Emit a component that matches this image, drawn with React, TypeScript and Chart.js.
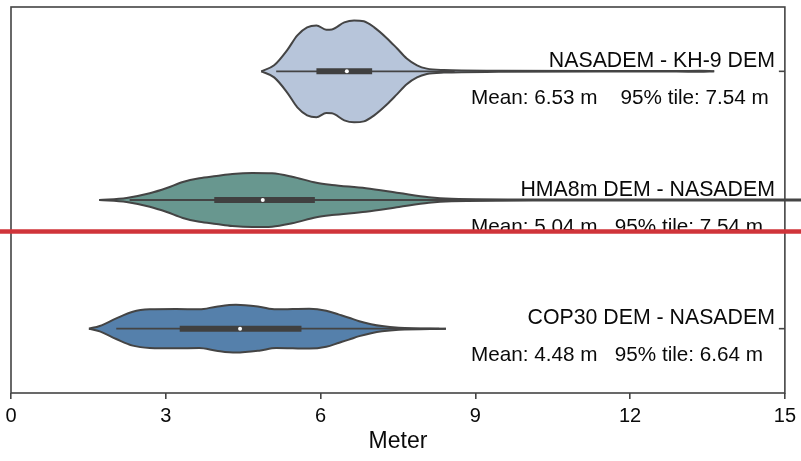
import React, { useEffect, useRef } from 'react';
import { Chart, registerables } from 'chart.js';

Chart.register(...registerables);

// ---- data ----
const categories = ['NASADEM - KH-9 DEM', 'HMA8m DEM - NASADEM', 'COP30 DEM - NASADEM'];
const meanValues = ['6.53', '5.04', '4.48'];
const p95Values = ['7.54', '7.54', '6.64'];
const statGaps = ['    ', '   ', '   '];

// violin outlines: x position (m) and half width (category units)
const v1X = [4.85, 5.1, 5.35, 5.55, 5.74, 5.92, 6.11, 6.22, 6.46, 6.65, 6.84, 7.04, 7.29, 7.48, 7.67, 7.87, 8.06, 8.39, 9.45, 11.4, 12.9, 13.35, 13.63];
const v1W = [0, 0.047, 0.163, 0.28, 0.342, 0.357, 0.324, 0.326, 0.381, 0.396, 0.389, 0.342, 0.256, 0.179, 0.1, 0.047, 0.021, 0.01, 0.004, 0.002, 0.002, 0.004, 0];
const v2X = [1.71, 2.24, 2.69, 3.02, 3.33, 3.65, 3.98, 4.29, 4.68, 5.06, 5.45, 5.92, 6.22, 6.88, 7.52, 8.1, 8.54, 10.4, 13.3, 15.5];
const v2W = [0, 0.016, 0.052, 0.093, 0.14, 0.169, 0.186, 0.202, 0.21, 0.207, 0.181, 0.134, 0.117, 0.091, 0.054, 0.021, 0.01, 0.004, 0.003, 0.003];
const v3X = [1.51, 1.72, 2.04, 2.36, 2.69, 3.2, 3.65, 3.98, 4.36, 4.81, 5.14, 5.78, 6.11, 6.36, 6.55, 6.75, 6.98, 7.19, 7.52, 8.43];
const v3W = [0, 0.021, 0.08, 0.132, 0.15, 0.153, 0.15, 0.171, 0.186, 0.171, 0.15, 0.155, 0.14, 0.109, 0.085, 0.058, 0.035, 0.02, 0.008, 0];

const q1 = [5.92, 3.94, 3.27];
const q3 = [7.0, 5.89, 5.63];
const medians = [6.51, 4.88, 4.44];
const whiskerLo = [5.14, 2.3, 2.04];
const whiskerHi = [8.6, 8.8, 8.3];

const xTicks = [0, 3, 6, 9, 12, 15];
const redLineValue = 1.245;

const violinColors = ['#b7c5da', '#68978f', '#5580ab'];
const violinX = [v1X, v2X, v3X];
const violinW = [v1W, v2W, v3W];

const EDGE = '#444444';
const FONT = '"Liberation Sans", Arial, sans-serif';

function buildDatasets() {
  const ds: any[] = [];
  violinX.forEach((xs, i) => {
    const ws = violinW[i];
    const common = {
      borderColor: EDGE,
      borderWidth: 2,
      pointRadius: 0,
      cubicInterpolationMode: 'monotone',
      order: 10,
      clip: i === 1 ? false : undefined,
    };
    ds.push({
      ...common,
      data: xs.map((x, k) => ({ x, y: i - ws[k] })),
      fill: false,
      backgroundColor: violinColors[i],
    });
    ds.push({
      ...common,
      data: xs.map((x, k) => ({ x, y: i + ws[k] })),
      fill: '-1',
      backgroundColor: violinColors[i],
    });
  });
  categories.forEach((_, i) => {
    ds.push({
      data: [{ x: whiskerLo[i], y: i }, { x: whiskerHi[i], y: i }],
      borderColor: EDGE,
      borderWidth: 1.8,
      pointRadius: 0,
      fill: false,
      order: 3,
    });
    ds.push({
      data: [{ x: q1[i], y: i }, { x: q3[i], y: i }],
      borderColor: '#404040',
      borderWidth: 6,
      borderCapStyle: 'butt',
      pointRadius: 0,
      fill: false,
      order: 2,
    });
    ds.push({
      data: [{ x: medians[i], y: i }],
      showLine: false,
      pointRadius: 2,
      pointBackgroundColor: '#ffffff',
      pointBorderWidth: 0,
      fill: false,
      order: 1,
    });
  });
  return ds;
}

const overlay = {
  id: 'overlay',
  afterDraw(chart: any) {
    const { ctx, chartArea: a, scales } = chart;
    const y = scales.y;
    ctx.save();
    ctx.strokeStyle = EDGE;
    ctx.lineWidth = 1.6;
    ctx.strokeRect(a.left, a.top, a.right - a.left, a.bottom - a.top);
    categories.forEach((label, i) => {
      const cy = y.getPixelForValue(i);
      ctx.beginPath();
      ctx.moveTo(a.right - 6, cy);
      ctx.lineTo(a.right, cy);
      ctx.stroke();
      ctx.fillStyle = '#0a0a0a';
      ctx.textBaseline = 'alphabetic';
      ctx.textAlign = 'right';
      ctx.font = `21.3px ${FONT}`;
      ctx.fillText(label, a.right - 10, cy - 4.3);
      ctx.textAlign = 'left';
      ctx.font = `20.7px ${FONT}`;
      ctx.fillText(`Mean: ${meanValues[i]} m${statGaps[i]}95% tile: ${p95Values[i]} m`, a.left + 460, cy + 32.5);
    });
    const ry = y.getPixelForValue(redLineValue);
    ctx.strokeStyle = '#d0343a';
    ctx.lineWidth = 4.3;
    ctx.beginPath();
    ctx.moveTo(0, ry);
    ctx.lineTo(chart.width, ry);
    ctx.stroke();
    ctx.restore();
  },
};

export default function App() {
  const ref = useRef<HTMLCanvasElement>(null);
  useEffect(() => {
    if (!ref.current) return;
    const chart = new Chart(ref.current, {
      type: 'line',
      data: { datasets: buildDatasets() },
      options: {
        animation: false,
        responsive: false,
        events: [],
        layout: { padding: { left: 11, right: 14, top: 7, bottom: 0 } },
        plugins: { legend: { display: false }, tooltip: { enabled: false }, title: { display: false } },
        scales: {
          x: {
            type: 'linear',
            min: 0,
            max: 15,
            afterBuildTicks: (s: any) => {
              s.ticks = xTicks.map((v) => ({ value: v }));
            },
            afterFit: (s: any) => {
              s.height = 68;
            },
            border: { display: false },
            grid: { drawOnChartArea: false, drawTicks: true, tickLength: 6, color: EDGE, lineWidth: 1.6 },
            ticks: { color: '#0a0a0a', font: { family: FONT, size: 20 }, padding: 5 },
            title: { display: true, text: 'Meter', color: '#0a0a0a', font: { family: FONT, size: 23 }, padding: { top: 2, bottom: 6 } },
          },
          y: {
            type: 'linear',
            min: -0.5,
            max: 2.5,
            reverse: true,
            display: false,
          },
        },
      },
      plugins: [overlay],
    } as any);
    return () => chart.destroy();
  }, []);
  return (
    <div style={{ position: 'fixed', left: 0, top: 0, width: 801, height: 461, background: '#fff' }}>
      <canvas ref={ref} width={801} height={461} style={{ display: 'block' }} />
    </div>
  );
}
